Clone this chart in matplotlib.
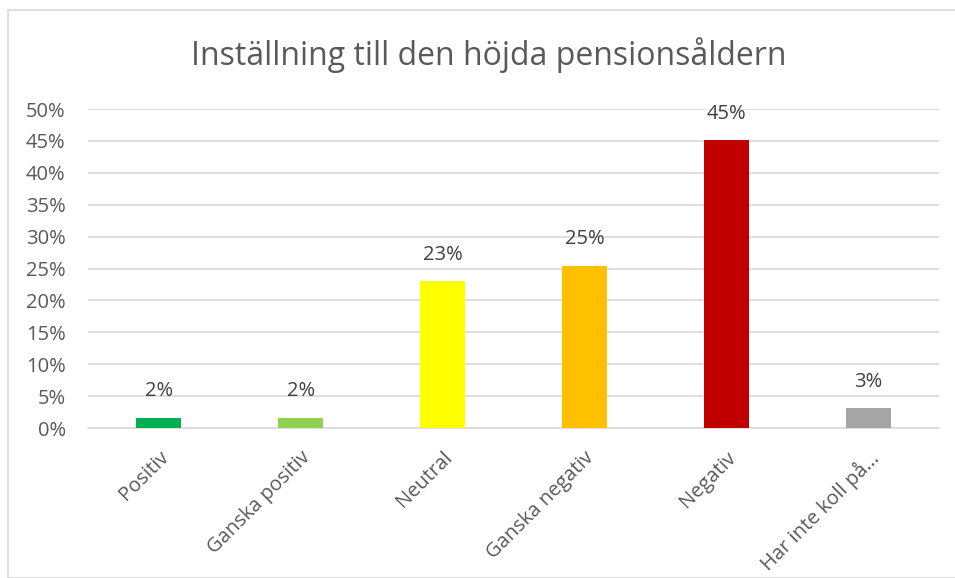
import matplotlib.pyplot as plt
from matplotlib.patches import Rectangle
from matplotlib.ticker import MultipleLocator, FuncFormatter

# data
categories = ['Positiv', 'Ganska positiv', 'Neutral', 'Ganska negativ', 'Negativ', 'Har inte koll på…']
values = [0.016, 0.016, 0.230, 0.254, 0.451, 0.031]
labels = ['2%', '2%', '23%', '25%', '45%', '3%']
colors = ['#00B050', '#92D050', '#FFFF00', '#FFC000', '#C00000', '#A5A5A5']

plt.rcParams['font.family'] = ['Open Sans', 'DejaVu Sans']

fig = plt.figure(figsize=(9.55, 5.78), dpi=100)
ax = fig.add_axes([0.0921, 0.2595, 0.8911, 0.5519])

# ram runt diagrammet
fig.patches.append(Rectangle((8 / 955, 0), 1, 1 - 10 / 578, transform=fig.transFigure,
                             fill=False, edgecolor='#D9D9D9', linewidth=1.2))

x = range(len(categories))
bars = ax.bar(x, values, width=0.317, color=colors, zorder=3)

for b, lab in zip(bars, labels):
    ax.text(b.get_x() + b.get_width() / 2, b.get_height() + 0.026, lab,
            ha='center', va='bottom', fontsize=14.5, color='#404040')

ax.set_xlim(-0.5, len(categories) - 0.5)
ax.set_ylim(0, 0.5)
ax.yaxis.set_major_locator(MultipleLocator(0.05))
ax.yaxis.set_major_formatter(FuncFormatter(lambda v, p: f'{v * 100:.0f}%'))
ax.grid(axis='y', color='#D9D9D9', linewidth=1.2, zorder=0)

for s in ['top', 'right', 'left']:
    ax.spines[s].set_visible(False)
ax.spines['bottom'].set_color('#D9D9D9')
ax.spines['bottom'].set_linewidth(1.2)

ax.set_xticks(list(x))
ax.set_xticklabels(categories, rotation=45, ha='right', va='top', rotation_mode='anchor')
ax.tick_params(axis='both', length=0, labelsize=14.5, labelcolor='#595959')
ax.tick_params(axis='x', pad=14)
ax.tick_params(axis='y', pad=16)

fig.text(0.512, 1 - 55 / 578, 'Inställning till den höjda pensionsåldern',
         ha='center', va='center', fontsize=23, color='#595959')

fig.savefig('out.png', dpi=100)
